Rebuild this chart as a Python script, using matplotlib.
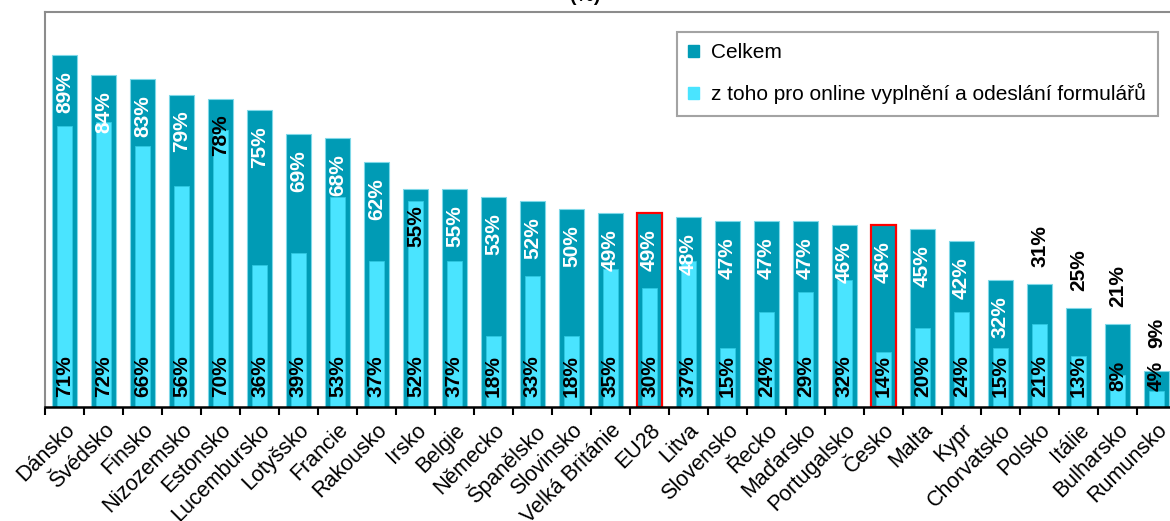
import numpy as np
import matplotlib.pyplot as plt
from matplotlib.patches import Patch

plt.rcParams["font.family"] = ["Liberation Sans", "DejaVu Sans"]

countries = [
    "Dánsko", "Švédsko", "Finsko", "Nizozemsko", "Estonsko", "Lucembursko",
    "Lotyšsko", "Francie", "Rakousko", "Irsko", "Belgie", "Německo",
    "Španělsko", "Slovinsko", "Velká Británie", "EU28", "Litva", "Slovensko",
    "Řecko", "Maďarsko", "Portugalsko", "Česko", "Malta", "Kypr",
    "Chorvatsko", "Polsko", "Itálie", "Bulharsko", "Rumunsko",
]
celkem = [89, 84, 83, 79, 78, 75, 69, 68, 62, 55, 55, 53, 52, 50, 49, 49, 48,
          47, 47, 47, 46, 46, 45, 42, 32, 31, 25, 21, 9]
formulare = [71, 72, 66, 56, 70, 36, 39, 53, 37, 52, 37, 18, 33, 18, 35, 30, 37,
             15, 24, 29, 32, 14, 20, 24, 15, 21, 13, 8, 4]
highlight = ["EU28", "Česko"]

dark = "#009BB5"
light = "#4AE4FF"

W, H = 1170, 521
fig = plt.figure(figsize=(W / 100, H / 100), dpi=100)
ax = fig.add_axes([45 / W, 114 / H, 1131 / W, 395.5 / H])

x = np.arange(len(countries))
ax.bar(x, celkem, width=0.66, color=dark, edgecolor="#7FD8E8", linewidth=0.8, zorder=2)
ax.bar(x, formulare, width=0.40, color=light, edgecolor="#2FC8E0", linewidth=0.6, zorder=3)

# red frame round EU28 and Czechia
hx = [i for i, c in enumerate(countries) if c in highlight]
ax.bar(hx, [celkem[i] for i in hx], width=0.66, facecolor="none",
       edgecolor="red", linewidth=1.6, zorder=4)

lab = dict(rotation=90, ha="center", va="center", fontsize=15, fontweight="bold",
           textcoords="offset pixels", zorder=5)
px_per_unit = 395.5 / 100
for i, (t, f) in enumerate(zip(celkem, formulare)):
    if t < 32:
        ax.annotate(f"{t}%", (i, t), xytext=(0, 38), color="black", **lab)
    else:
        col = "black" if t - 37 / px_per_unit < f else "white"
        ax.annotate(f"{t}%", (i, t), xytext=(0, -37), color=col, **lab)
    ax.annotate(f"{f}%", (i, 0), xytext=(0, 31), color="black", **lab)

ax.set_xlim(-0.5, len(countries) - 0.5)
ax.set_ylim(0, 100)
ax.set_yticks([])
ax.set_xticks(np.arange(len(countries) + 1) - 0.5)
ax.set_xticklabels([])
ax.tick_params(axis="x", which="major", length=6, width=1.5, color="black", direction="out")
ax.set_xticks(x, minor=True)
ax.set_xticklabels(countries, minor=True, rotation=45, ha="right",
                   rotation_mode="anchor", fontsize=15.5)
ax.tick_params(axis="x", which="minor", length=0, pad=9)
for side in ["left", "top", "right"]:
    ax.spines[side].set_color("#8C8C8C")
    ax.spines[side].set_linewidth(1.5)
ax.spines["bottom"].set_color("black")
ax.spines["bottom"].set_linewidth(1.8)
ax.spines["bottom"].set_zorder(6)

handles = [Patch(color=dark, label="Celkem"),
           Patch(color=light, label="z toho pro online vyplnění a odeslání formulářů")]
leg = fig.legend(handles=handles, loc="upper left", bbox_to_anchor=(677 / W, 1 - 32 / H),
                 fontsize=15, frameon=True, fancybox=False, edgecolor="#8C8C8C",
                 handlelength=0.5, handleheight=0.5, handletextpad=0.6,
                 labelspacing=1.0, borderpad=0.55, borderaxespad=0)
leg.get_frame().set_linewidth(1.5)

fig.text(0.5, 1 - 1 / H, "(%)", ha="center", va="baseline", fontsize=14, fontweight="bold")

fig.savefig("out.png", dpi=100)
